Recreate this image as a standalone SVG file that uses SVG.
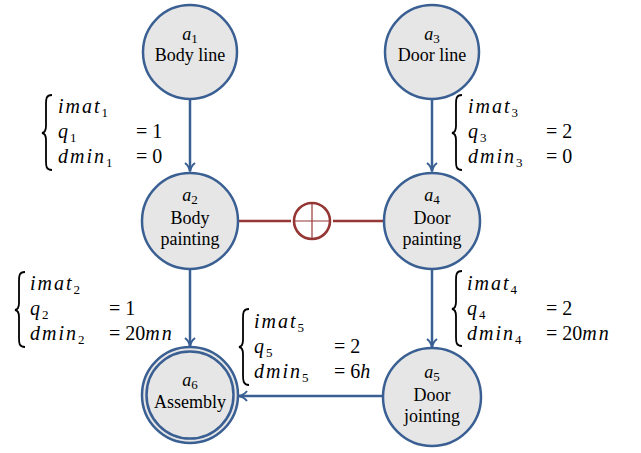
<svg xmlns="http://www.w3.org/2000/svg" width="641" height="453" viewBox="0 0 641 453">
<style>
.node{fill:#e6e6e6;stroke:#3a5f93;stroke-width:2.5}
.edge{fill:none;stroke:#3a5f93;stroke-width:2.5}
.xor{fill:none;stroke:#953735;stroke-width:2.6}
.xorthin{fill:none;stroke:#953735;stroke-width:1.2}
text{font-family:'Liberation Serif','Times New Roman',serif}
.lbl{font-size:18px;fill:#000;text-anchor:middle}
.m{font-size:20px;fill:#000}
.mi{font-style:italic;letter-spacing:2px}
.sub{font-size:13px;font-style:normal;letter-spacing:0}
.brace{fill:none;stroke:#000;stroke-width:1.8}
</style>
<defs>
<marker id="arr" viewBox="0 0 12 12" refX="10" refY="6" markerWidth="12" markerHeight="12" markerUnits="userSpaceOnUse" orient="auto">
<path d="M2,1 Q5,5 10.5,6 Q5,7 2,11" fill="none" stroke="#3a5f93" stroke-width="2"/>
</marker>
</defs>

<g id="connectors">
<line class="edge" x1="190" y1="100" x2="190" y2="171" marker-end="url(#arr)"/>
<line class="edge" x1="432" y1="100" x2="432" y2="171" marker-end="url(#arr)"/>
<line class="edge" x1="190" y1="268" x2="190" y2="346" marker-end="url(#arr)"/>
<line class="edge" x1="432" y1="268" x2="432" y2="347" marker-end="url(#arr)"/>
<line class="edge" x1="383" y1="396" x2="239" y2="396" marker-end="url(#arr)"/>
<line class="xor" x1="238" y1="221" x2="291" y2="221"/>
<line class="xor" x1="333" y1="221" x2="384" y2="221"/>
</g>

<g id="xor">
<circle class="xor" cx="312" cy="221" r="18" stroke-width="1.8"/>
<line class="xorthin" x1="294" y1="221" x2="330" y2="221"/>
<line class="xorthin" x1="312" y1="203" x2="312" y2="239"/>
</g>

<g id="a1">
<circle class="node" cx="190" cy="52" r="47"/>
<text class="lbl" x="190" y="40"><tspan font-style="italic">a</tspan><tspan font-size="13" dy="3">1</tspan></text>
<text class="lbl" x="190" y="61">Body line</text>
</g>
<g id="a3">
<circle class="node" cx="432" cy="52" r="47"/>
<text class="lbl" x="432" y="40"><tspan font-style="italic">a</tspan><tspan font-size="13" dy="3">3</tspan></text>
<text class="lbl" x="432" y="61">Door line</text>
</g>
<g id="a2">
<circle class="node" cx="190" cy="221" r="48"/>
<text class="lbl" x="190" y="201"><tspan font-style="italic">a</tspan><tspan font-size="13" dy="3">2</tspan></text>
<text class="lbl" x="190" y="224">Body</text>
<text class="lbl" x="190" y="245">painting</text>
</g>
<g id="a4">
<circle class="node" cx="432" cy="221" r="48"/>
<text class="lbl" x="432" y="201"><tspan font-style="italic">a</tspan><tspan font-size="13" dy="3">4</tspan></text>
<text class="lbl" x="432" y="224">Door</text>
<text class="lbl" x="432" y="245">painting</text>
</g>
<g id="a5">
<circle class="node" cx="432" cy="397" r="49"/>
<text class="lbl" x="432" y="378"><tspan font-style="italic">a</tspan><tspan font-size="13" dy="3">5</tspan></text>
<text class="lbl" x="432" y="401">Door</text>
<text class="lbl" x="432" y="422">jointing</text>
</g>
<g id="a6">
<circle class="node" cx="190" cy="395" r="48"/>
<circle class="node" cx="190" cy="395" r="43.5" stroke-width="2"/>
<text class="lbl" x="190" y="386"><tspan font-style="italic">a</tspan><tspan font-size="13" dy="3">6</tspan></text>
<text class="lbl" x="190" y="408">Assembly</text>
</g>

<g id="label1">
<path class="brace" d="M52,95 C46,95 46,99 46,104 L46,126 C46,130 45,132.5 42,133 C45,133.5 46,136 46,140 L46,161 C46,166 46,170 52,170"/>
<text class="m" x="58" y="113"><tspan class="mi">imat</tspan><tspan class="sub" dy="4">1</tspan></text>
<text class="m" x="58" y="138"><tspan class="mi">q</tspan><tspan class="sub" dy="4">1</tspan></text>
<text class="m" x="136" y="138">= 1</text>
<text class="m" x="58" y="163"><tspan class="mi">dmin</tspan><tspan class="sub" dy="4">1</tspan></text>
<text class="m" x="136" y="163">= 0</text>
</g>
<g id="label3">
<path class="brace" d="M462,95 C456,95 456,99 456,104 L456,126 C456,130 455,132.5 452,133 C455,133.5 456,136 456,140 L456,161 C456,166 456,170 462,170"/>
<text class="m" x="468" y="113"><tspan class="mi">imat</tspan><tspan class="sub" dy="4">3</tspan></text>
<text class="m" x="468" y="138"><tspan class="mi">q</tspan><tspan class="sub" dy="4">3</tspan></text>
<text class="m" x="546" y="138">= 2</text>
<text class="m" x="468" y="163"><tspan class="mi">dmin</tspan><tspan class="sub" dy="4">3</tspan></text>
<text class="m" x="546" y="163">= 0</text>
</g>
<g id="label2">
<path class="brace" d="M25,272 C19,272 19,276 19,281 L19,303 C19,307 18,309.5 15,310 C18,310.5 19,313 19,317 L19,338 C19,343 19,347 25,347"/>
<text class="m" x="30" y="290"><tspan class="mi">imat</tspan><tspan class="sub" dy="4">2</tspan></text>
<text class="m" x="30" y="315"><tspan class="mi">q</tspan><tspan class="sub" dy="4">2</tspan></text>
<text class="m" x="109" y="315">= 1</text>
<text class="m" x="30" y="340"><tspan class="mi">dmin</tspan><tspan class="sub" dy="4">2</tspan></text>
<text class="m" x="109" y="340">= 20<tspan class="mi">mn</tspan></text>
</g>
<g id="label4">
<path class="brace" d="M462,271 C456,271 456,275 456,280 L456,302 C456,306 455,308.5 452,309 C455,309.5 456,312 456,316 L456,337 C456,342 456,346 462,346"/>
<text class="m" x="467" y="290"><tspan class="mi">imat</tspan><tspan class="sub" dy="4">4</tspan></text>
<text class="m" x="467" y="315"><tspan class="mi">q</tspan><tspan class="sub" dy="4">4</tspan></text>
<text class="m" x="546" y="315">= 2</text>
<text class="m" x="467" y="340"><tspan class="mi">dmin</tspan><tspan class="sub" dy="4">4</tspan></text>
<text class="m" x="546" y="340">= 20<tspan class="mi">mn</tspan></text>
</g>
<g id="label5">
<path class="brace" d="M249,309 C243,309 243,313 243,318 L243,340 C243,344 242,346.5 239,347 C242,347.5 243,350 243,354 L243,375 C243,380 243,385 249,385"/>
<text class="m" x="254" y="328"><tspan class="mi">imat</tspan><tspan class="sub" dy="4">5</tspan></text>
<text class="m" x="254" y="353"><tspan class="mi">q</tspan><tspan class="sub" dy="4">5</tspan></text>
<text class="m" x="334" y="353">= 2</text>
<text class="m" x="254" y="378"><tspan class="mi">dmin</tspan><tspan class="sub" dy="4">5</tspan></text>
<text class="m" x="334" y="378">= 6<tspan class="mi">h</tspan></text>
</g>
</svg>
